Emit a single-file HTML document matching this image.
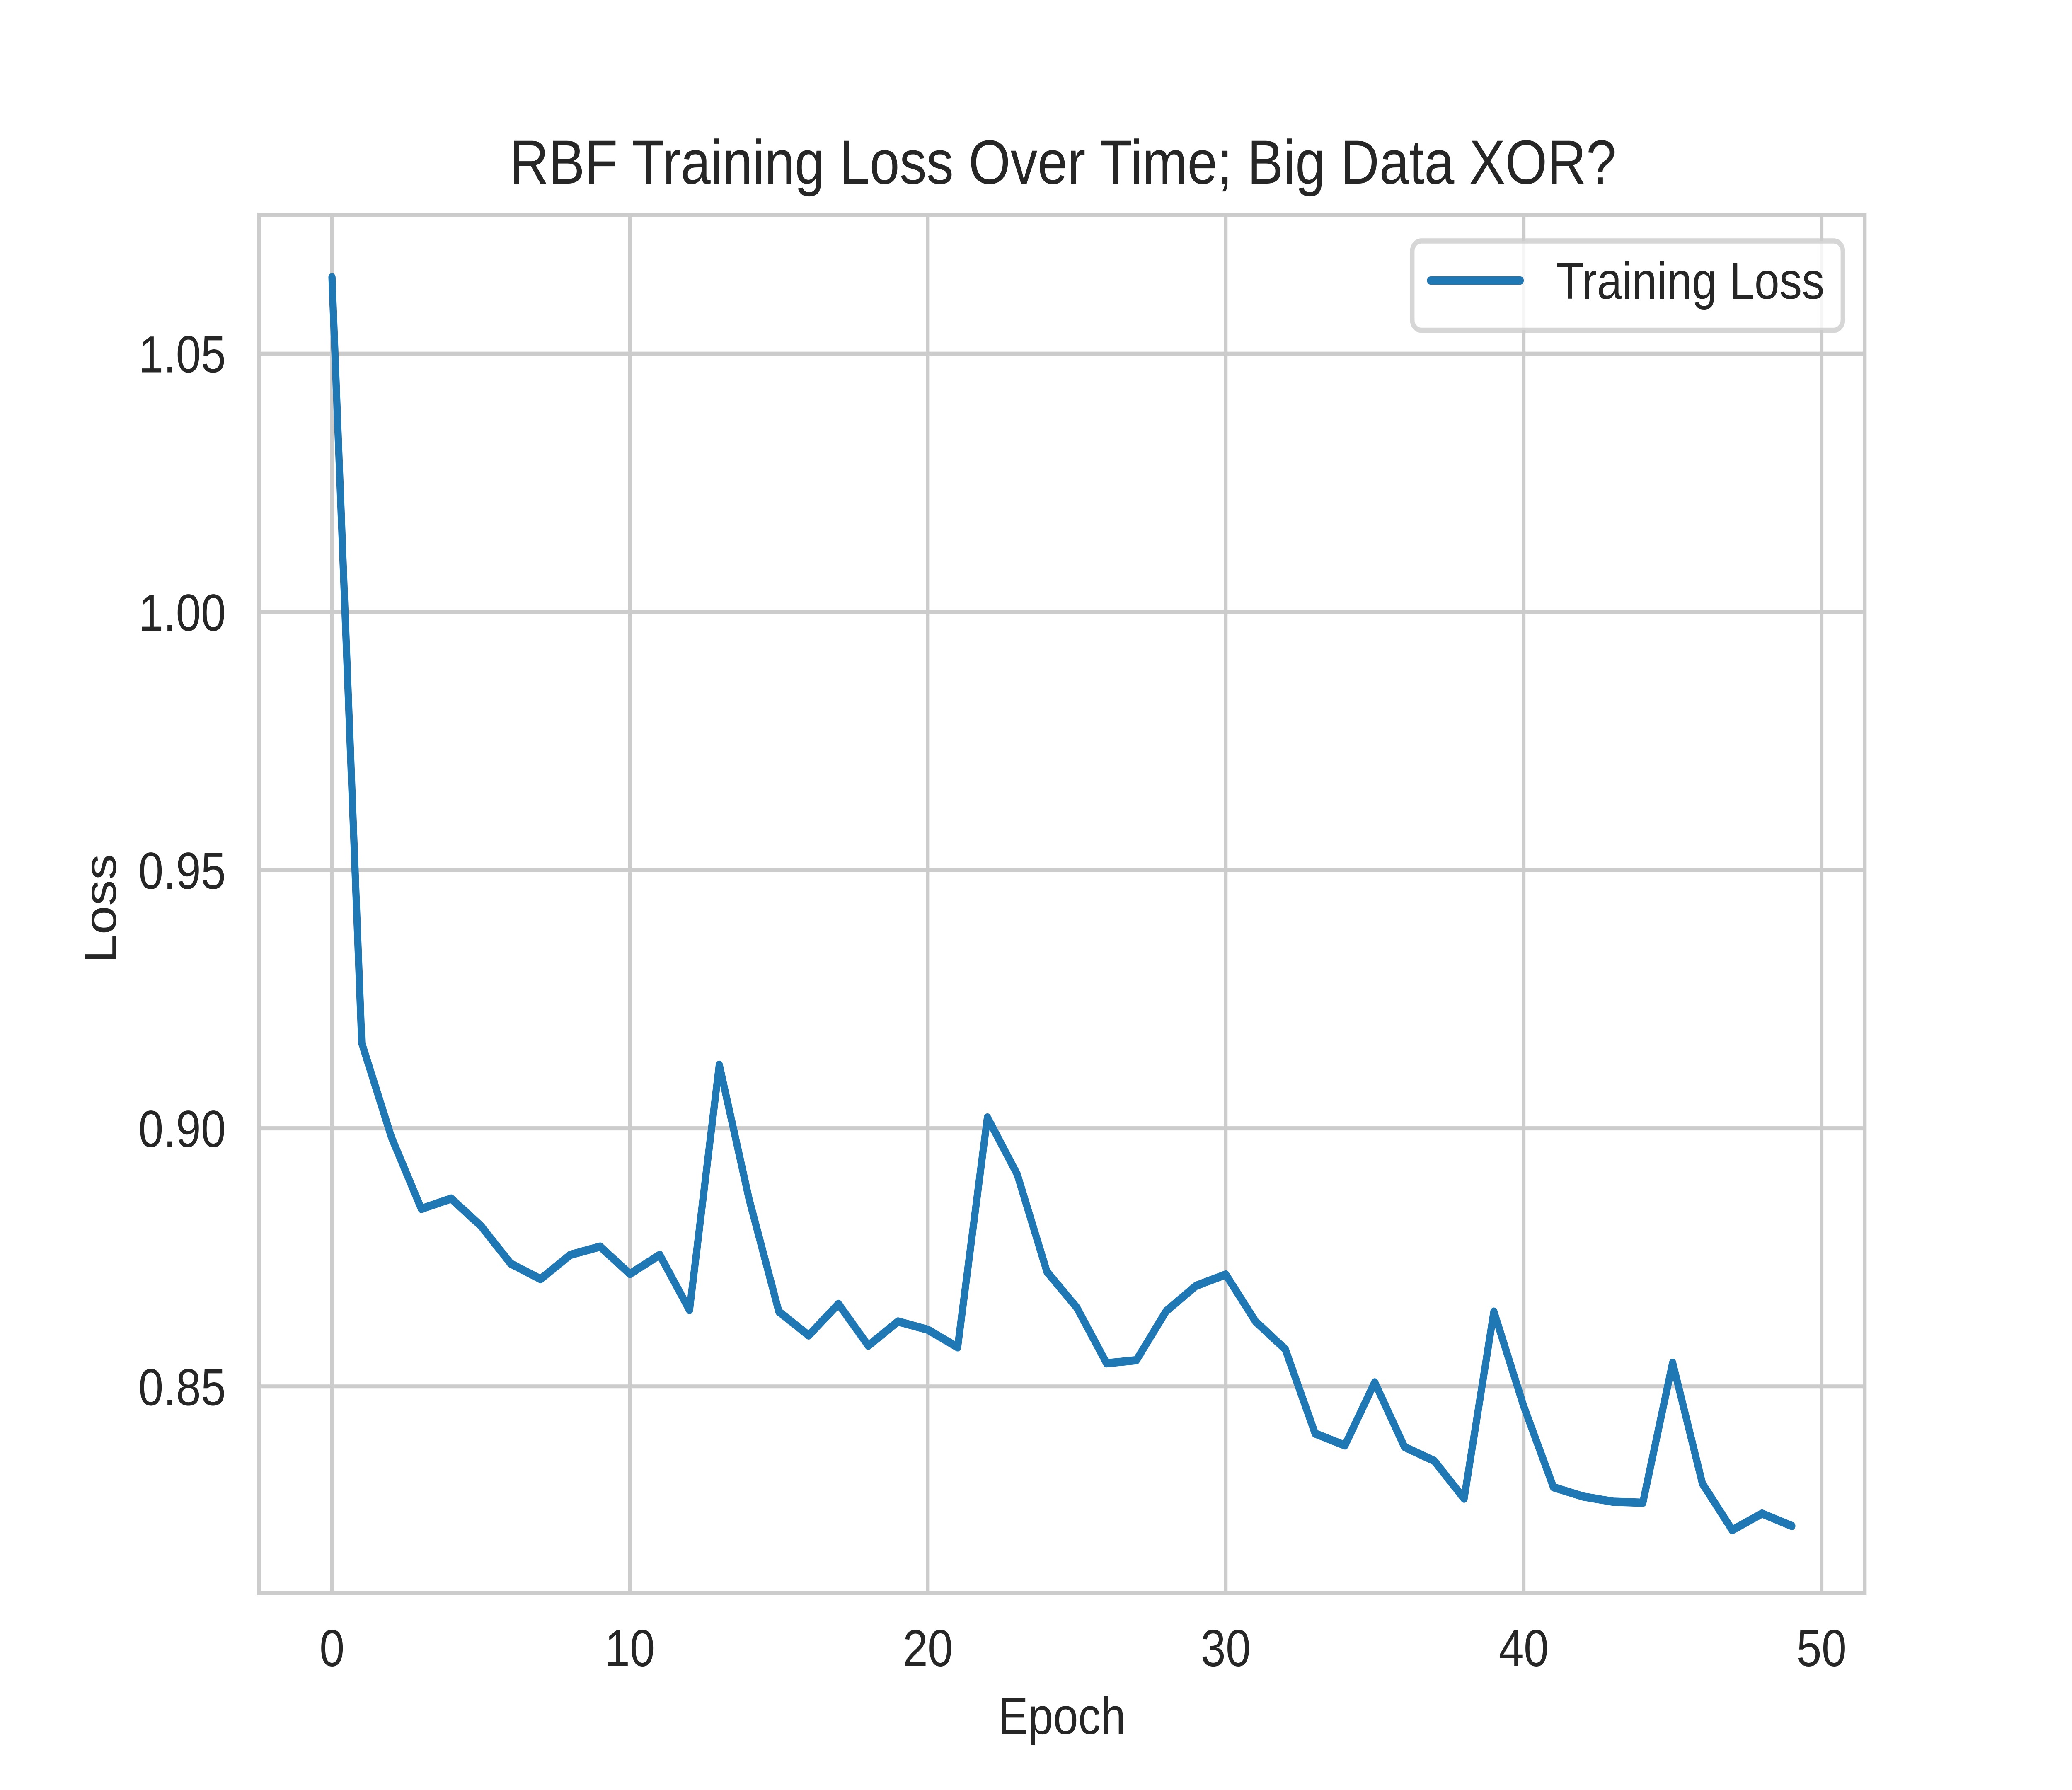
<!DOCTYPE html>
<html lang="en">
<head>
<meta charset="utf-8">
<title>RBF Training Loss Over Time; Big Data XOR?</title>
<style>
html,body{margin:0;padding:0;background:#fff;width:100%;height:100%;overflow:hidden}
svg{display:block;width:100vw;height:100vh}
text{font-family:"Liberation Sans",Arial,sans-serif;fill:#262626}
</style>
</head>
<body>
<svg id="chart" xmlns="http://www.w3.org/2000/svg" viewBox="0 0 5760 4320" preserveAspectRatio="none">
<rect x="0" y="0" width="5760" height="4320" fill="#ffffff"/>
<g id="grid"></g>
<path id="series" fill="none" stroke="#1f77b4" stroke-width="20" stroke-linejoin="round" stroke-linecap="round"/>
<g id="spines" fill="none" stroke="#cccccc" stroke-width="10">
<rect x="720" y="518.4" width="4464" height="3326.4"/>
</g>
<g id="xticks"></g>
<g id="yticks"></g>
<text x="2955" y="443" font-size="150" text-anchor="middle">RBF Training Loss Over Time; Big Data XOR?</text>
<text x="2952" y="4185" font-size="125" text-anchor="middle">Epoch</text>
<text transform="translate(322 2193) rotate(-90)" font-size="125" text-anchor="middle">Loss</text>
<g>
<rect x="3926" y="581.5" width="1197" height="215.5" rx="25" ry="25" fill="#ffffff" fill-opacity="0.8" stroke="#cccccc" stroke-opacity="0.8" stroke-width="12.5"/>
<line x1="3977" y1="677" x2="4226" y2="677" stroke="#1f77b4" stroke-width="20" stroke-linecap="round"/>
<text x="4326" y="721" font-size="125">Training Loss</text>
</g>
</svg>
<script>
const epochs = [0,1,2,3,4,5,6,7,8,9,10,11,12,13,14,15,16,17,18,19,20,21,22,23,24,25,26,27,28,29,30,31,32,33,34,35,36,37,38,39,40,41,42,43,44,45,46,47,48,49];
const trainingLoss = [1.0648,0.9165,0.8982,0.8844,0.8864,0.8811,0.8738,0.8708,0.8755,0.8771,0.8718,0.8755,0.8648,0.9123,0.8863,0.8645,0.8599,0.8660,0.8579,0.8626,0.8610,0.8576,0.9021,0.8911,0.8722,0.8653,0.8545,0.8551,0.8646,0.8695,0.8717,0.8626,0.8572,0.8409,0.8386,0.8508,0.8383,0.8356,0.8283,0.8645,0.8462,0.8305,0.8287,0.8277,0.8275,0.8546,0.8312,0.8222,0.8254,0.8230];
const xTickValues = [0,10,20,30,40,50];
const yTickValues = [0.85,0.90,0.95,1.00,1.05];
const xTickLabels = ["0","10","20","30","40","50"];
const yTickLabels = ["0.85","0.90","0.95","1.00","1.05"];
const xDomain = [-2.45, 51.45];
const yDomain = [0.8100, 1.0769];

const plotLeft = 720, plotRight = 5184, plotTop = 518.4, plotBottom = 3844.8;
function xScale(v){ return plotLeft + (v - xDomain[0]) / (xDomain[1] - xDomain[0]) * (plotRight - plotLeft); }
function yScale(v){ return plotBottom - (v - yDomain[0]) / (yDomain[1] - yDomain[0]) * (plotBottom - plotTop); }

const SVG_NS = "http://www.w3.org/2000/svg";
const gridGroup = document.getElementById("grid");
const xTickGroup = document.getElementById("xticks");
const yTickGroup = document.getElementById("yticks");

xTickValues.forEach(function(v, i){
  const line = document.createElementNS(SVG_NS, "line");
  
  
  line.setAttribute("x1", xScale(v));
  line.setAttribute("x2", xScale(v));
  line.setAttribute("y1", plotTop);
  line.setAttribute("y2", plotBottom);
  line.setAttribute("stroke", "#cccccc");
  line.setAttribute("stroke-width", "10");
  gridGroup.appendChild(line);
  const label = document.createElementNS(SVG_NS, "text");
  
  
  label.setAttribute("x", xScale(v));
  label.setAttribute("y", 4021);
  label.setAttribute("font-size", "125");
  label.setAttribute("text-anchor", "middle");
  label.textContent = xTickLabels[i];
  xTickGroup.appendChild(label);
});

yTickValues.forEach(function(v, i){
  const line = document.createElementNS(SVG_NS, "line");
  
  
  line.setAttribute("x1", plotLeft);
  line.setAttribute("x2", plotRight);
  line.setAttribute("y1", yScale(v));
  line.setAttribute("y2", yScale(v));
  line.setAttribute("stroke", "#cccccc");
  line.setAttribute("stroke-width", "10");
  gridGroup.appendChild(line);
  const label = document.createElementNS(SVG_NS, "text");
  
  
  label.setAttribute("x", 628);
  label.setAttribute("y", yScale(v) + 45);
  label.setAttribute("font-size", "125");
  label.setAttribute("text-anchor", "end");
  label.textContent = yTickLabels[i];
  yTickGroup.appendChild(label);
});

document.getElementById("series").setAttribute("d",
  trainingLoss.map(function(v, i){
    return (i ? "L" : "M") + xScale(epochs[i]).toFixed(2) + " " + yScale(v).toFixed(2);
  }).join(" ")
);
</script>
</body>
</html>
